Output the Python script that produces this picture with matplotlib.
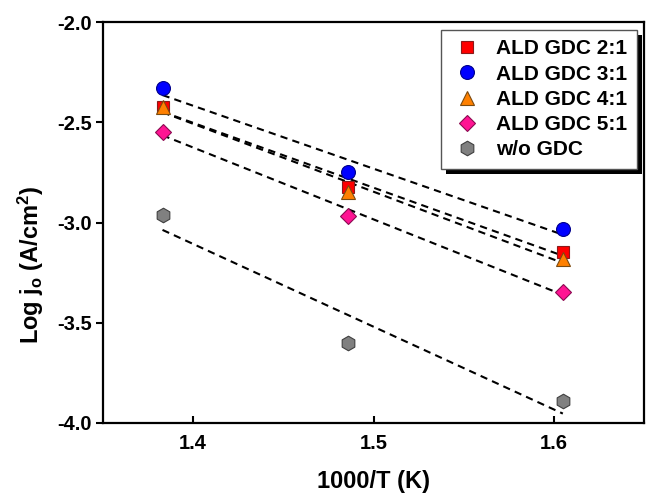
import numpy as np
import matplotlib
matplotlib.use("Agg")
import matplotlib.pyplot as plt
from matplotlib.patches import Rectangle

plt.rcParams['font.family'] = ['Liberation Sans', 'DejaVu Sans']
plt.rcParams['font.weight'] = 'bold'
plt.rcParams['mathtext.fontset'] = 'custom'
plt.rcParams['mathtext.rm'] = 'Liberation Sans:bold'
plt.rcParams['mathtext.it'] = 'Liberation Sans:bold'
plt.rcParams['mathtext.bf'] = 'Liberation Sans:bold'

# 1000/T values for the three measurement temperatures
inv_T = [1.383, 1.486, 1.605]

labels = ["ALD GDC 2:1", "ALD GDC 3:1", "ALD GDC 4:1", "ALD GDC 5:1", "w/o GDC"]
gdc_2_1 = [-2.425, -2.824, -3.146]
gdc_3_1 = [-2.331, -2.750, -3.032]
gdc_4_1 = [-2.425, -2.846, -3.180]
gdc_5_1 = [-2.547, -2.968, -3.345]
no_gdc = [-2.963, -3.600, -3.889]

series = [gdc_2_1, gdc_3_1, gdc_4_1, gdc_5_1, no_gdc]
markers = ["s", "o", "^", "D", "h"]
faces = ["#FF0000", "#0000FF", "#FF8000", "#FF1493", "#808080"]
edges = ["#8B1A1A", "#00008B", "#7A4A10", "#8B0A50", "#404040"]
sizes = [8.5, 10, 10, 8.5, 10.5]

fig = plt.figure(figsize=(6.47, 4.93), dpi=100)
ax = fig.add_axes([103 / 647, 1 - 423 / 493, 541 / 647, 401 / 493])

x = np.array(inv_T)
# linear Arrhenius fits (dashed)
for ys in series:
    y = np.array(ys)
    k, b = np.polyfit(x, y, 1)
    xf = np.array([x.min(), x.max()])
    ax.plot(xf, k * xf + b, color="black", lw=1.5, dashes=(3.5, 2.5), zorder=2)

for ys, lab, m, fc, ec, ms in zip(series, labels, markers, faces, edges, sizes):
    ax.plot(inv_T, ys, linestyle="none", marker=m, markersize=ms,
            markerfacecolor=fc, markeredgecolor=ec, markeredgewidth=0.8,
            label=lab, zorder=3)

ax.set_xlim(1.35, 1.65)
ax.set_ylim(-4.0, -2.0)
ax.set_xticks([1.4, 1.5, 1.6])
ax.set_yticks([-4.0, -3.5, -3.0, -2.5, -2.0])
ax.set_xticklabels(["1.4", "1.5", "1.6"])
ax.set_yticklabels(["-4.0", "-3.5", "-3.0", "-2.5", "-2.0"])

for s in ax.spines.values():
    s.set_linewidth(1.6)
ax.tick_params(axis="x", direction="in", length=5, width=1.5, labelsize=14.5, pad=8)
ax.tick_params(axis="y", direction="out", length=5, width=1.5, labelsize=14.5, pad=3)

ax.set_xlabel("1000/T (K)", fontsize=17, fontweight="bold", labelpad=12)
ax.set_ylabel(r"Log j$_\mathregular{o}$ (A/cm$^\mathregular{2}$)", fontsize=17,
              fontweight="bold")
ax.yaxis.set_label_coords(-0.106, 0.394)

leg = ax.legend(loc="upper right", bbox_to_anchor=(0.987, 0.980), fontsize=15,
                frameon=True, fancybox=False, edgecolor="#555555",
                framealpha=1, borderpad=0.45, labelspacing=0.3,
                handletextpad=0.6, handlelength=1.6, borderaxespad=0.0)
leg.get_frame().set_linewidth(1.0)
leg.set_zorder(6)

# solid offset shadow behind the legend box
fig.canvas.draw()
bb = leg.get_window_extent(fig.canvas.get_renderer())
inv = ax.transAxes.inverted()
(x0, y0), (x1, y1) = inv.transform([[bb.x0 + 5, bb.y0 - 5], [bb.x1 + 5, bb.y1 - 5]])
ax.add_patch(Rectangle((x0, y0), x1 - x0, y1 - y0, transform=ax.transAxes,
                       facecolor="black", edgecolor="none", clip_on=False, zorder=5))

fig.savefig("out.png", dpi=100)
